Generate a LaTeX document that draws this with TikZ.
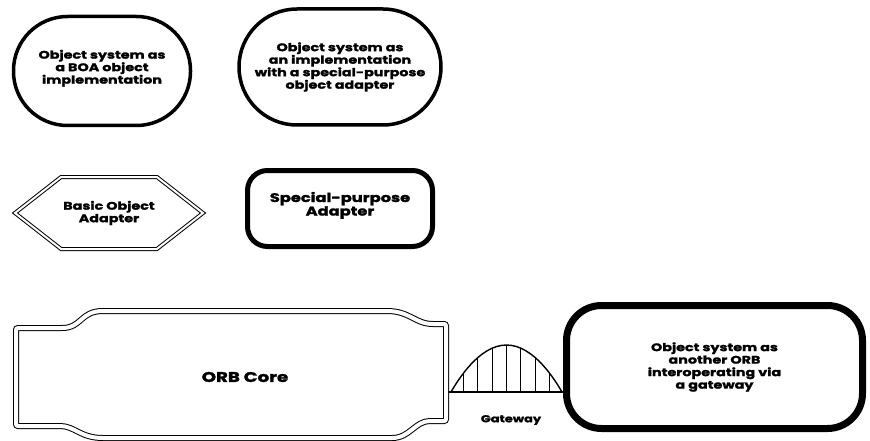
\documentclass[tikz,border=0pt]{standalone}
\usepackage{fontspec}
\setmainfont{Poppins}[FakeStretch=1.3,BoldFeatures={FakeBold=1.8}]
\usetikzlibrary{shapes.symbols,calc}
\newcommand{\lbl}{\fontsize{11}{12.5}\selectfont\bfseries}
\tikzset{
  oval/.style={draw,line width=3.5pt,align=center,font=\lbl},
  adbox/.style={draw,line width=5pt,rounded corners=20pt,align=center,font=\lbl},
  dbl/.style={draw,double,line width=1pt,double distance=4pt},
  bar/.style={line width=1.4pt},
}

\begin{document}
\begin{tikzpicture}[x=1pt,y=-1pt,font=\lbl]
\useasboundingbox (0,0) rectangle (870,441);
% object systems
\node[oval,rounded corners=54pt,minimum width=177pt,minimum height=109pt] (boa) at (102,71)
   {Object system as\\a BOA object\\implementation\\[-4pt]};
\node[oval,rounded corners=58pt,minimum width=202pt,minimum height=116pt] (spo) at (340,67)
   {Object system as\\an implementation\\with a special-purpose\\object adapter};
% adapters
\node[signal,signal to=west and east,signal pointer angle=76,dbl,double distance=2pt,
   minimum width=188pt,minimum height=72pt,align=center,inner sep=0pt] (bad) at (109,213)
   {Basic Object\\Adapter};
\node[adbox,minimum width=185pt,minimum height=76pt,font=\fontsize{12.5}{13.5}\selectfont\bfseries] (spa) at (340,208.5)
   {Special-purpose\\Adapter\\[-4pt]};
% ORB core
\draw[dbl,rounded corners=2pt] (16,328) -- (60,328) .. controls (82,328) and (80,311) .. (105,311)
   -- (385,311) .. controls (410,311) and (415,324) .. (435,324) -- (446,324)
   -- (446,421) -- (432,421) .. controls (415,421) and (410,438) .. (390,438)
   -- (105,438) .. controls (80,438) and (75,426) .. (58,426) -- (16,426) -- cycle;
\node[font=\fontsize{14}{16}\selectfont\bfseries] (orb) at (245,377) {ORB Core};
% other ORB
\node[draw,line width=7pt,rounded corners=35pt,minimum width=296pt,minimum height=123pt,
   align=center] (oth) at (714.5,367)
   {Object system as\\another ORB\\interoperating via\\a gateway};
% gateway
\coordinate (gwl) at (449,392);
\coordinate (gwr) at (oth.west |- gwl);
\draw[bar] (gwl) -- (gwr);
\draw[bar] (451,392) parabola bend (506.5,345) (562,392);
\foreach \k in {-3,...,3}{
  \pgfmathsetmacro{\gx}{506.5+14.3*\k}
  \pgfmathsetmacro{\gy}{392-47*(1-(14.3*\k/55.5)^2)}
  \draw[line width=1.1pt] (\gx,392) -- (\gx,\gy);
}
\node[font=\fontsize{10}{12}\selectfont\bfseries] (gw) at (511,420) {Gateway};
\end{tikzpicture}
\end{document}
